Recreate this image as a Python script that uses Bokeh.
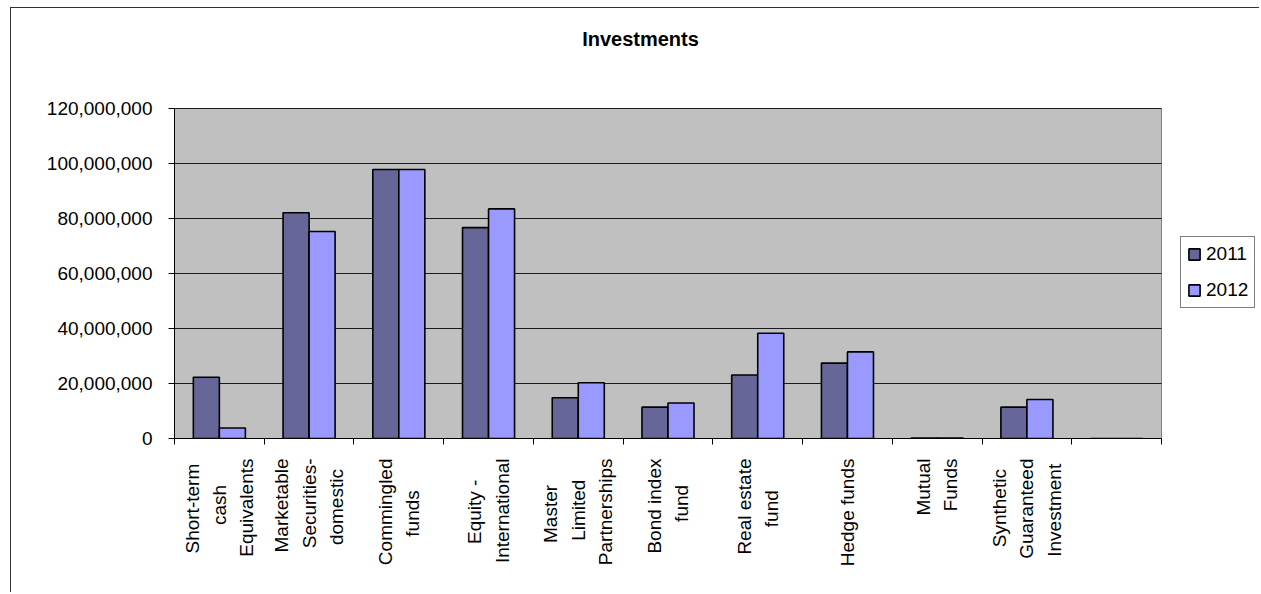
import numpy as np
from math import pi
from bokeh.plotting import figure
from bokeh.models import (ColumnDataSource, Range1d, FixedTicker, NumeralTickFormatter,
                          Legend, LegendItem, Label)
from bokeh.embed import file_html
from bokeh.resources import INLINE

# ---------------- data ----------------
title_text = "Investments"
categories = [
    "Short-term\ncash\nEquivalents",
    "Marketable\nSecurities-\ndomestic",
    "Commingled\nfunds",
    "Equity -\nInternational",
    "Master\nLimited\nPartnerships",
    "Bond index\nfund",
    "Real estate\nfund",
    "Hedge funds",
    "Mutual\nFunds",
    "Synthetic\nGuaranteed\nInvestment",
    "",
]
series_names = ["2011", "2012"]
values_2011 = [22300000, 82100000, 97800000, 76700000, 14800000, 11400000,
               23100000, 27400000, 200000, 11400000, 0]
values_2012 = [3800000, 75300000, 97800000, 83500000, 20300000, 12900000,
               38300000, 31500000, 150000, 14200000, 0]
y_ticks = [0, 20000000, 40000000, 60000000, 80000000, 100000000, 120000000]

# ---------------- layout / style ----------------
FONT = "Liberation Sans"
W, H = 1249, 585
ML, MR, MT, MB = 163, 0, 0, 155
PLOT_W, PLOT_H = 987, 330          # size of the grey plot area in px
FW, FH = W - ML - MR, H - MT - MB  # full frame (plot area + title/legend room)
n = len(categories)
ymax = y_ticks[-1]
x_end = n * FW / PLOT_W
y_end = ymax * FH / PLOT_H
xpp = n / PLOT_W      # data units per px
ypp = ymax / PLOT_H
C2011, C2012 = "#666699", "#9999FF"
BG = "#C0C0C0"
LABEL_SIZE = 19

# approximate Arial/Liberation advance widths (per 1000 em), used to centre
# the lines of each rotated multi-line category label
AW = {' ': 278, '-': 333, 'a': 556, 'b': 556, 'c': 500, 'd': 556, 'e': 556, 'f': 278,
      'g': 556, 'h': 556, 'i': 222, 'j': 222, 'k': 500, 'l': 222, 'm': 833, 'n': 556,
      'o': 556, 'p': 556, 'q': 556, 'r': 333, 's': 500, 't': 278, 'u': 556, 'v': 500,
      'w': 722, 'x': 500, 'y': 500, 'z': 500, 'A': 667, 'B': 667, 'C': 722, 'D': 722,
      'E': 667, 'F': 611, 'G': 778, 'H': 722, 'I': 278, 'L': 556, 'M': 833, 'P': 667,
      'R': 722, 'S': 667}


def text_px(s):
    return sum(AW.get(c, 556) for c in s) / 1000.0 * LABEL_SIZE


def centred(label):
    if not label:
        return label
    lines = label.split("\n")
    longest = max(text_px(l) for l in lines)
    sp = text_px(" ")
    return "\n".join(l + " " * int(round((longest - text_px(l)) / 2 / sp)) for l in lines)


x_pos = np.arange(n) + 0.5
bar_w = 0.29
src = ColumnDataSource(dict(x1=x_pos - bar_w / 2, x2=x_pos + bar_w / 2,
                            v1=values_2011, v2=values_2012))

p = figure(width=W, height=H, x_range=Range1d(0, x_end), y_range=Range1d(0, y_end),
           output_backend="svg", toolbar_location=None,
           min_border_left=ML, min_border_right=MR, min_border_top=MT, min_border_bottom=MB,
           background_fill_color="white", border_fill_color="white",
           outline_line_color=None,
           styles={"margin-left": "10px", "margin-top": "7px",
                   "border-top": "1px solid #333333", "border-left": "1px solid #333333"})

# grey plot area, gridlines
p.quad(left=[0], right=[n], bottom=[0], top=[ymax], fill_color=BG,
       line_color="#808080", line_width=1)
p.segment(x0=[0] * len(y_ticks), x1=[n] * len(y_ticks), y0=y_ticks, y1=y_ticks,
          line_color="#1a1a1a", line_width=1)
p.xgrid.visible = False
p.ygrid.visible = False

# y axis
p.yaxis.bounds = (0, ymax)
p.yaxis.ticker = FixedTicker(ticks=y_ticks)
p.yaxis.formatter = NumeralTickFormatter(format="0,0")
p.yaxis.major_label_text_font = FONT
p.yaxis.major_label_text_font_size = "19px"
p.yaxis.major_label_text_color = "black"
p.yaxis.major_tick_out = 6
p.yaxis.major_tick_in = 0
p.yaxis.minor_tick_out = 0
p.yaxis.minor_tick_in = 0
p.yaxis.major_label_standoff = 16
p.yaxis.axis_line_color = "black"
p.yaxis.major_tick_line_color = "black"

# x axis: labels at category centres (major), ticks at boundaries (minor)
p.xaxis.bounds = (0, n)
p.xaxis.ticker = FixedTicker(ticks=list(x_pos), minor_ticks=list(range(n + 1)))
p.xaxis.major_label_overrides = {float(x): centred(c) for x, c in zip(x_pos, categories)}
p.xaxis.major_label_orientation = pi / 2
p.xaxis.major_label_text_font = FONT
p.xaxis.major_label_text_font_size = f"{LABEL_SIZE}px"
p.xaxis.major_label_text_color = "black"
p.xaxis.major_label_text_line_height = 1.3
p.xaxis.major_label_standoff = 14
p.xaxis.major_tick_out = 0
p.xaxis.major_tick_in = 0
p.xaxis.minor_tick_out = 6
p.xaxis.minor_tick_in = 0
p.xaxis.minor_tick_line_color = "black"
p.xaxis.axis_line_color = "black"

# bars
r1 = p.vbar(x="x1", top="v1", width=bar_w, source=src, fill_color=C2011,
            line_color="black", line_width=1.6)
r2 = p.vbar(x="x2", top="v2", width=bar_w, source=src, fill_color=C2012,
            line_color="black", line_width=1.6)

# legend (right of the grey area)
legend = Legend(items=[LegendItem(label=series_names[0], renderers=[r1]),
                       LegendItem(label=series_names[1], renderers=[r2])],
                location=(PLOT_W + 19, 130),
                border_line_color="black", border_line_width=1,
                background_fill_color="white", background_fill_alpha=1,
                label_text_font=FONT, label_text_font_size="19px",
                label_text_color="black",
                glyph_width=14, glyph_height=14, label_standoff=5,
                label_height=20, spacing=14, padding=6, margin=0)
p.add_layout(legend)

# title
p.add_layout(Label(x=466 * xpp, y=400 * ypp, text=title_text,
                   text_align="center", text_baseline="middle",
                   text_font=FONT, text_font_size="20px", text_font_style="bold",
                   text_color="black"))

open("out.html", "w").write(file_html(p, INLINE))
